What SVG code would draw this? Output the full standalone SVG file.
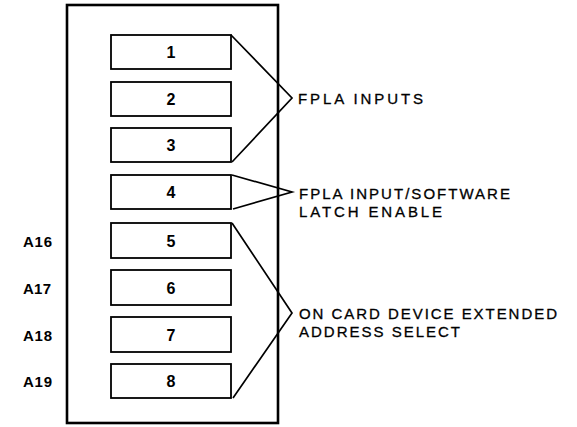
<svg xmlns="http://www.w3.org/2000/svg" width="577" height="427" viewBox="0 0 577 427">
<style>
.box{fill:none;stroke:#000;stroke-width:1.8}
.frame{fill:none;stroke:#000;stroke-width:2.6}
.num{font-family:"Liberation Sans",Arial,sans-serif;font-size:16px;font-weight:bold;text-anchor:middle;fill:#000}
.lbl{font-family:"Liberation Sans",Arial,sans-serif;font-size:15px;font-weight:bold;fill:#000}
.note{font-family:"Liberation Sans",Arial,sans-serif;font-size:15px;fill:#000;stroke:#000;stroke-width:0.3}
.conn{fill:none;stroke:#000;stroke-width:1.7;stroke-linejoin:miter}
</style>
<rect width="577" height="427" fill="#fff"/>
<rect id="frame" class="frame" x="67" y="5" width="211" height="418"/>
<g id="box1"><rect class="box" x="111" y="35" width="120" height="34"/><text class="num" x="171" y="58">1</text></g>
<g id="box2"><rect class="box" x="111" y="82" width="120" height="34"/><text class="num" x="171" y="105">2</text></g>
<g id="box3"><rect class="box" x="111" y="128" width="120" height="34"/><text class="num" x="171" y="151">3</text></g>
<g id="box4"><rect class="box" x="111" y="175" width="120" height="34"/><text class="num" x="171" y="198">4</text></g>
<g id="box5"><rect class="box" x="111" y="223" width="120" height="35"/><text class="num" x="171" y="247">5</text><text class="lbl" x="23" y="247" textLength="29" lengthAdjust="spacing">A16</text></g>
<g id="box6"><rect class="box" x="111" y="270" width="120" height="35"/><text class="num" x="171" y="294">6</text><text class="lbl" x="23" y="294" textLength="28" lengthAdjust="spacing">A17</text></g>
<g id="box7"><rect class="box" x="111" y="317" width="120" height="35"/><text class="num" x="171" y="341">7</text><text class="lbl" x="23" y="341" textLength="29" lengthAdjust="spacing">A18</text></g>
<g id="box8"><rect class="box" x="111" y="364" width="120" height="34"/><text class="num" x="171" y="387">8</text><text class="lbl" x="23" y="387" textLength="29" lengthAdjust="spacing">A19</text></g>
<g id="connectors">
<polyline class="conn" points="231,35 292,98 232,162"/>
<polyline class="conn" points="232,175 292,192 233,209"/>
<polyline class="conn" points="232,223 292,313 233,398"/>
</g>
<g id="notes">
<text class="note" x="298" y="104" textLength="125" lengthAdjust="spacing">FPLA INPUTS</text>
<text class="note" x="299" y="199" textLength="211" lengthAdjust="spacing">FPLA INPUT/SOFTWARE</text>
<text class="note" x="299" y="217" textLength="143" lengthAdjust="spacing">LATCH ENABLE</text>
<text class="note" x="299" y="319" textLength="258" lengthAdjust="spacing">ON CARD DEVICE EXTENDED</text>
<text class="note" x="299" y="337" textLength="161" lengthAdjust="spacing">ADDRESS SELECT</text>
</g>
</svg>
